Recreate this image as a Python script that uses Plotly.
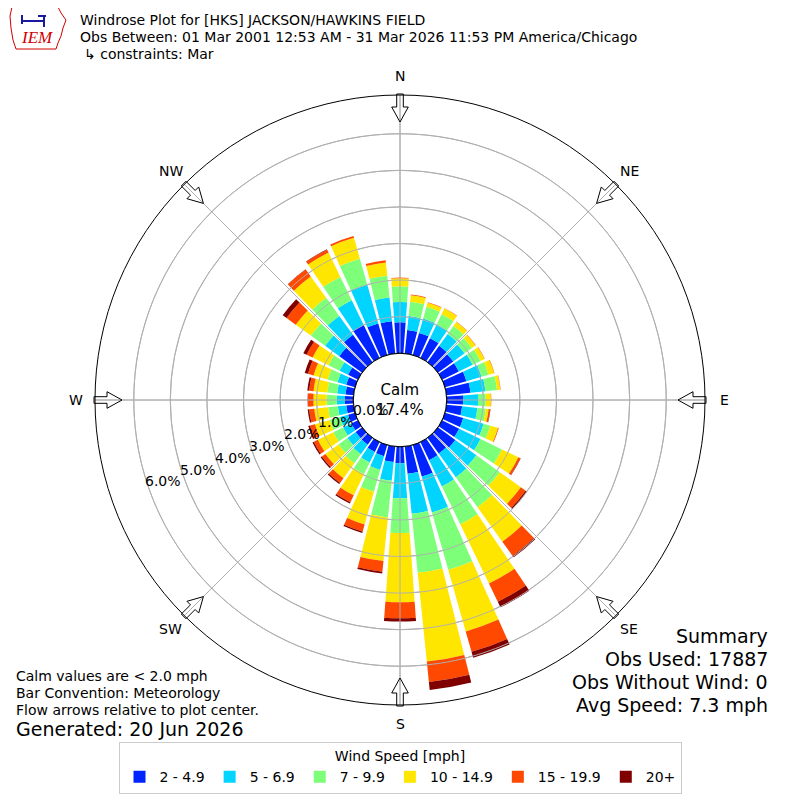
import math
import plotly.graph_objects as go

# ---------------- data (percent of observations) ----------------
directions = [0, 10, 20, 30, 40, 50, 60, 70, 80, 90, 100, 110,
              120, 130, 140, 150, 160, 170, 180, 190, 200, 210, 220, 230,
              240, 250, 260, 270, 280, 290, 300, 310, 320, 330, 340, 350]
speed_bins = ["2 - 4.9", "5 - 6.9", "7 - 9.9", "10 - 14.9", "15 - 19.9", "20+"]
bin_colors = ["#0024ff", "#00d4ff", "#7dff7a", "#ffe600", "#ff4800", "#800000"]

pct_2_5 = [0.85, 0.65, 0.63, 0.60, 0.55, 0.52, 0.51, 0.61, 0.66, 0.45, 0.43, 0.52,
           0.52, 0.59, 0.53, 0.55, 0.90, 0.75, 0.45, 0.43, 0.32, 0.30, 0.23, 0.22,
           0.20, 0.20, 0.20, 0.23, 0.22, 0.25, 0.30, 0.77, 0.92, 1.00, 0.90, 0.89]
pct_5_7 = [0.55, 0.38, 0.41, 0.42, 0.40, 0.38, 0.42, 0.43, 0.41, 0.41, 0.42, 0.58,
           0.65, 0.71, 0.80, 0.80, 1.02, 1.10, 0.96, 0.51, 0.39, 0.32, 0.32, 0.28,
           0.25, 0.23, 0.23, 0.22, 0.23, 0.25, 0.26, 0.48, 0.64, 0.75, 1.10, 0.65]
pct_7_10 = [0.43, 0.39, 0.33, 0.31, 0.27, 0.25, 0.24, 0.20, 0.32, 0.21, 0.23, 0.19,
            0.65, 0.79, 1.01, 1.15, 1.63, 1.62, 0.95, 1.01, 0.62, 0.36, 0.31, 0.30,
            0.30, 0.29, 0.27, 0.28, 0.27, 0.28, 0.34, 0.48, 0.61, 0.71, 0.74, 0.60]
pct_10_15 = [0.22, 0.18, 0.12, 0.17, 0.13, 0.12, 0.12, 0.16, 0.09, 0.14, 0.08, 0.22,
             0.50, 0.71, 1.16, 1.80, 1.75, 2.44, 1.89, 1.20, 0.93, 0.64, 0.50, 0.44,
             0.47, 0.42, 0.38, 0.36, 0.38, 0.40, 0.48, 0.51, 0.72, 0.74, 0.59, 0.36]
pct_15_20 = [0.02, 0.02, 0.01, 0.01, 0.01, 0.01, 0.01, 0.01, 0.01, 0.01, 0.04, 0.02,
             0.06, 0.16, 0.48, 0.55, 0.58, 0.56, 0.44, 0.29, 0.20, 0.21, 0.16, 0.12,
             0.12, 0.14, 0.14, 0.15, 0.12, 0.16, 0.18, 0.31, 0.23, 0.09, 0.05, 0.06]
pct_20_up = [0.00, 0.00, 0.00, 0.00, 0.00, 0.00, 0.00, 0.00, 0.00, 0.00, 0.01, 0.00,
             0.01, 0.04, 0.05, 0.17, 0.17, 0.22, 0.09, 0.05, 0.04, 0.04, 0.04, 0.04,
             0.04, 0.05, 0.04, 0.01, 0.05, 0.09, 0.10, 0.13, 0.01, 0.01, 0.00, 0.00]
series = [pct_2_5, pct_5_7, pct_7_10, pct_10_15, pct_15_20, pct_20_up]

radial_ticks = [0, 1, 2, 3, 4, 5, 6]
compass_angles = [0, 45, 90, 135, 180, 225, 270, 315]
compass_labels = ["N", "NE", "E", "SE", "S", "SW", "W", "NW"]

calm_pct = 17.4
title_lines = ["Windrose Plot for [HKS] JACKSON/HAWKINS FIELD",
               "Obs Between: 01 Mar 2001 12:53 AM - 31 Mar 2026 11:53 PM America/Chicago",
               "\u21b3 constraints: Mar"]
notes_left = ["Calm values are < 2.0 mph", "Bar Convention: Meteorology",
              "Flow arrows relative to plot center."]
generated = "Generated: 20 Jun 2026"
summary = ["Summary", "Obs Used: 17887", "Obs Without Wind: 0", "Avg Speed: 7.3 mph"]

# ---------------- geometry ----------------
W = H = 800
OFF = 8            # page body margin of the browser
CX = CY = 400.0    # plot centre in window pixels
R_OUT = 305.0
HOLE_PX = 46.7
RMAX = 7.06
R_LABEL = 324.0
FONT = "DejaVu Sans"
GRID = "#b0b0b0"


def paper(x, y):
    """window pixel -> paper coordinates"""
    return (x - OFF) / W, 1 - (y - OFF) / H


fig = go.Figure()

for name, col, vals in zip(speed_bins, bin_colors, series):
    fig.add_trace(go.Barpolar(
        r=vals, theta=directions, width=8.3, name=name,
        marker=dict(color=col, line=dict(width=0)),
        hovertemplate="%{theta}°: %{r:.2f}%<extra>" + name + "</extra>",
    ))

# grid drawn above the bars (as in the reference)
ring_r, ring_t = [], []
for v in radial_ticks[1:]:
    ring_r += [v] * 361 + [None]
    ring_t += list(range(361)) + [None]
for a in range(0, 360, 45):
    ring_r += [0, RMAX, None]
    ring_t += [a, a, None]
fig.add_trace(go.Scatterpolar(r=ring_r, theta=ring_t, mode="lines",
                              line=dict(color=GRID, width=1),
                              showlegend=False, hoverinfo="skip"))
fig.add_trace(go.Scatterpolar(r=[0] * 361, theta=list(range(361)), mode="lines",
                              line=dict(color="black", width=1),
                              showlegend=False, hoverinfo="skip"))

x0d, _ = paper(CX - R_OUT, 0)
x1d, _ = paper(CX + R_OUT, 0)
_, y1d = paper(0, CY - R_OUT)
_, y0d = paper(0, CY + R_OUT)
_, leg_top = paper(0, 742)
fig.update_layout(
    width=W, height=H,
    margin=dict(l=0, r=0, t=0, b=0),
    paper_bgcolor="white",
    font=dict(family=FONT, size=13, color="black"),
    polar=dict(
        domain=dict(x=[x0d, x1d], y=[y0d, y1d]),
        hole=HOLE_PX / R_OUT,
        bgcolor="white",
        barmode="stack",
        radialaxis=dict(range=[0, RMAX], tickvals=radial_ticks[1:], showticklabels=False,
                        ticks="", showline=False, gridcolor=GRID, gridwidth=1),
        angularaxis=dict(rotation=90, direction="clockwise", tickvals=compass_angles,
                         ticktext=compass_labels, showticklabels=False, ticks="",
                         gridcolor=GRID, showline=True, linecolor="black", linewidth=1),
    ),
    legend=dict(orientation="h", x=0.5 - OFF / W, xanchor="center", y=leg_top, yanchor="top",
                bordercolor="#cccccc", borderwidth=1, bgcolor="white",
                font=dict(size=14),
                title=dict(text="Wind Speed [mph]", side="top center", font=dict(size=14))),
)

ann = []
# title
for i, line in enumerate(title_lines):
    xa = 78 if i < 2 else 82
    px, py = paper(xa, 20 + 17 * i)
    ann.append(dict(x=px, y=py, text=line, xanchor="left", yanchor="middle",
                    font=dict(size=14)))
# compass labels centred just outside the ring
for a, lab in zip(compass_angles, compass_labels):
    t = math.radians(a)
    px, py = paper(CX + R_LABEL * math.sin(t), CY - R_LABEL * math.cos(t))
    ann.append(dict(x=px, y=py, text=lab, xanchor="center", yanchor="middle",
                    font=dict(size=14)))
# calm label
px, py = paper(CX, CY)
ann.append(dict(x=px, y=py, text="Calm<br>%.1f%%" % calm_pct,
                xanchor="center", yanchor="middle", font=dict(size=15)))
# radial tick labels
lab_ang = math.radians(19)
for v in radial_ticks:
    rp = HOLE_PX + (R_OUT - HOLE_PX) * v / RMAX - 16
    px, py = paper(CX - rp * math.cos(lab_ang), CY + rp * math.sin(lab_ang))
    ann.append(dict(x=px, y=py, text="%.1f%%" % v, xanchor="center", yanchor="middle",
                    font=dict(size=14)))
# notes bottom-left
for i, line in enumerate(notes_left):
    px, py = paper(14, 676 + 17 * i)
    ann.append(dict(x=px, y=py, text=line, xanchor="left", yanchor="middle",
                    font=dict(size=14)))
px, py = paper(14, 729)
ann.append(dict(x=px, y=py, text=generated, xanchor="left", yanchor="middle",
                font=dict(size=19)))
# summary bottom-right
for i, line in enumerate(summary):
    px, py = paper(770, 636 + 23 * i)
    ann.append(dict(x=px, y=py, text=line, xanchor="right", yanchor="middle",
                    font=dict(size=19)))
# logo text
px, py = paper(37, 37)
ann.append(dict(x=px, y=py, text="IEM", xanchor="center", yanchor="middle",
                font=dict(size=17, color="#d00000", family="Liberation Serif", style="italic")))
for a in ann:
    a["showarrow"] = False
    a["xref"] = "paper"
    a["yref"] = "paper"
fig.update_layout(annotations=ann)

# compass flow arrows (outline) on the outer ring
shapes = []
for a in compass_angles:
    t = math.radians(a)
    ux, uy = math.sin(t), -math.cos(t)
    qx, qy = math.cos(t), math.sin(t)

    def pt(rr, off):
        return paper(CX + rr * ux + off * qx, CY + rr * uy + off * qy)

    pts = [pt(R_OUT + 1, -3.3), pt(R_OUT - 12, -3.3), pt(R_OUT - 12, -8.3),
           pt(R_OUT - 27, 0), pt(R_OUT - 12, 8.3), pt(R_OUT - 12, 3.3), pt(R_OUT + 1, 3.3)]
    path = "M " + " L ".join("%.5f,%.5f" % p for p in pts) + " Z"
    shapes.append(dict(type="path", path=path, xref="paper", yref="paper",
                       line=dict(color="black", width=1), fillcolor="rgba(0,0,0,0)"))
# logo outline (state shape) and glyph
logo = [(12, 7), (58, 7), (61, 13), (66, 20), (63, 28), (61, 36), (58, 43), (56, 49),
        (16, 49), (13, 40), (11, 28), (10, 16)]
path = "M " + " L ".join("%.5f,%.5f" % paper(x, y) for x, y in logo) + " Z"
shapes.append(dict(type="path", path=path, xref="paper", yref="paper",
                   line=dict(color="#d00000", width=1), fillcolor="rgba(0,0,0,0)"))
for (xa, ya, xb, yb) in [(22, 21, 44, 21), (44, 16, 44, 27), (22, 15, 22, 24),
                         (38, 16, 46, 16)]:
    (a0, b0), (a1, b1) = paper(xa, ya), paper(xb, yb)
    shapes.append(dict(type="line", x0=a0, y0=b0, x1=a1, y1=b1, xref="paper", yref="paper",
                       line=dict(color="#1a1aa0", width=2)))
fig.update_layout(shapes=shapes)

fig.write_html("out.html")
